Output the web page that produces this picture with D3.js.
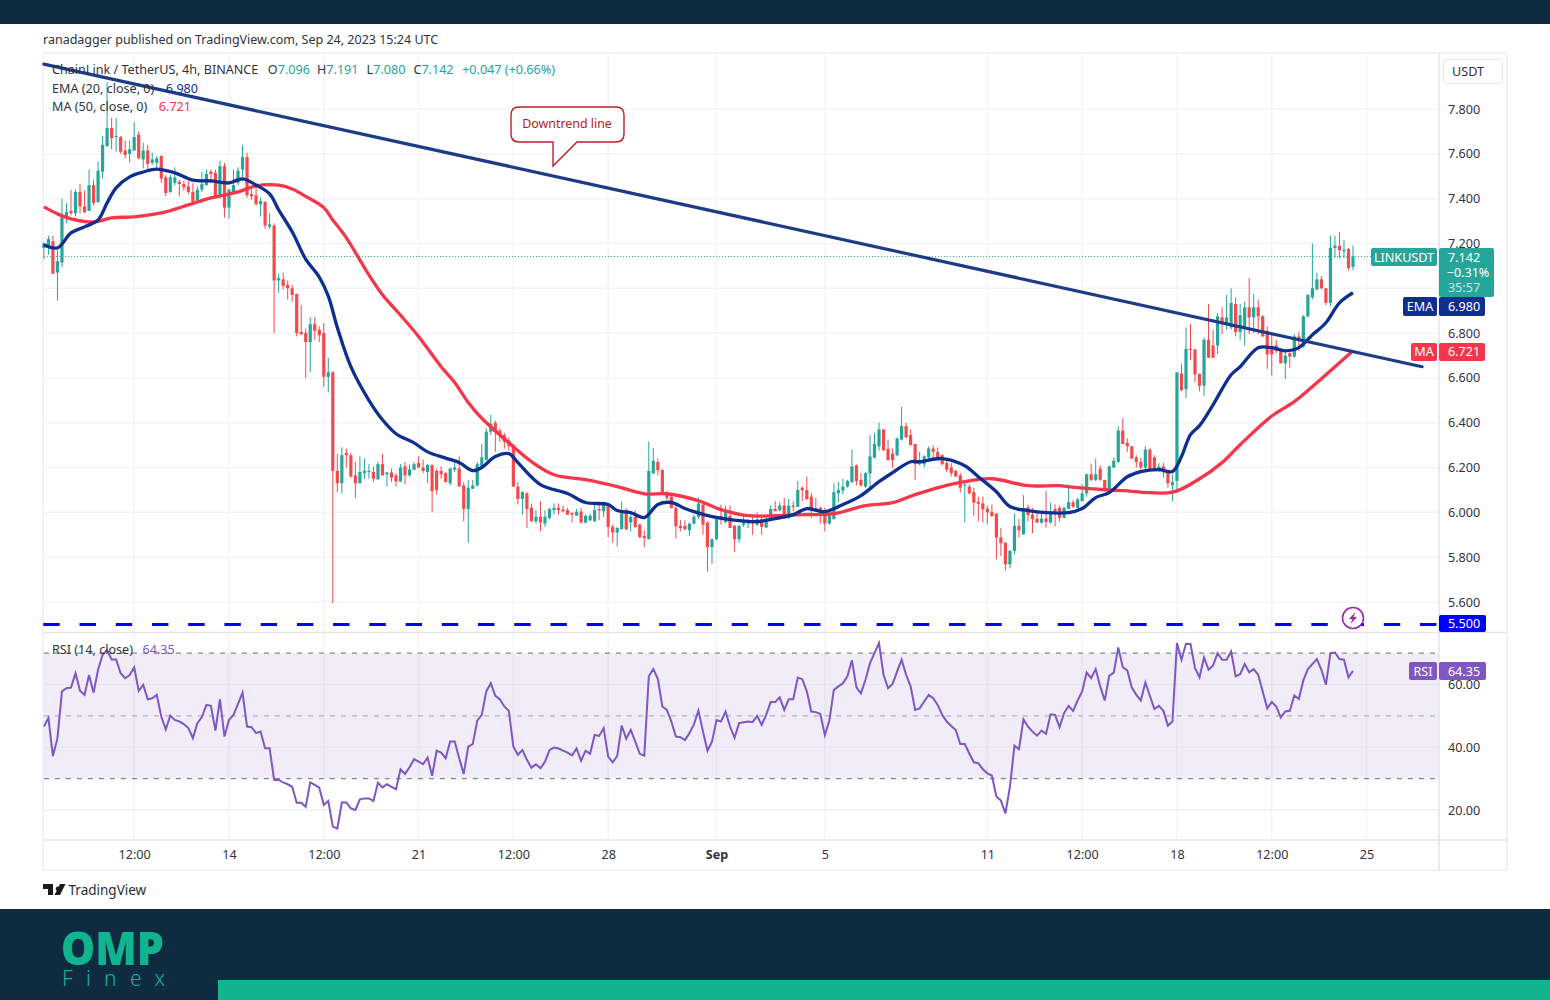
<!DOCTYPE html>
<html>
<head>
<meta charset="utf-8">
<title>LINKUSDT</title>
<script src="https://d3js.org/d3.v7.min.js"></script>
<style>
  body { margin: 0; background: #fff; }
  svg { display: block; }
  text { font-family: "Noto Sans", sans-serif; }
</style>
</head>
<body>
<svg id="chart" width="1550" height="1000"></svg>
<script>

const opens = [
  7.18,7.185,7.21,7.07,7.115,7.32,7.345,7.335,7.43,7.365,
  7.345,7.46,7.385,7.52,7.635,7.715,7.675,7.675,7.615,7.60,
  7.615,7.685,7.575,7.615,7.56,7.56,7.59,7.495,7.43,7.47,
  7.475,7.465,7.455,7.43,7.39,7.44,7.46,7.52,7.515,7.41,
  7.545,7.36,7.43,7.47,7.53,7.585,7.42,7.415,7.375,7.385,
  7.275,7.28,7.035,7.04,7.015,7.0,6.975,6.805,6.8,6.76,
  6.84,6.815,6.8,6.605,6.625,6.185,6.13,6.265,6.255,6.165,
  6.13,6.175,6.18,6.18,6.147,6.215,6.17,6.178,6.165,6.138,
  6.205,6.165,6.19,6.22,6.2,6.18,6.21,6.185,6.185,6.175,
  6.13,6.19,6.195,6.12,6.015,6.105,6.12,6.2,6.235,6.36,
  6.4,6.365,6.345,6.32,6.3,6.115,6.06,6.085,6.02,5.96,
  5.98,5.95,5.975,6.01,6.02,6.013,6.01,5.998,5.985,6.003,
  5.955,5.965,5.96,6.015,6.005,6.03,5.935,5.91,5.925,6.01,
  5.955,5.98,5.945,5.895,5.88,6.175,6.225,6.19,6.08,6.07,
  6.02,5.94,5.94,5.92,5.95,5.98,6.035,5.955,5.845,5.88,
  5.985,5.955,5.985,5.94,5.88,5.945,5.95,5.96,5.945,5.97,
  5.932,5.965,6.015,6.01,6.03,5.975,6.03,6.025,6.11,6.1,
  6.07,6.018,6.02,6.01,5.95,5.97,6.085,6.098,6.115,6.135,
  6.21,6.145,6.115,6.173,6.245,6.295,6.37,6.283,6.262,6.255,
  6.325,6.385,6.345,6.305,6.215,6.215,6.245,6.285,6.27,6.255,
  6.22,6.2,6.185,6.165,6.12,6.115,6.09,6.047,6.04,6.016,
  6.002,5.995,5.888,5.865,5.768,5.828,5.94,5.902,6.023,5.99,
  5.972,5.954,5.972,5.955,6.015,6.02,5.976,6.016,6.045,6.02,
  6.05,6.085,6.17,6.145,6.195,6.145,6.105,6.2,6.225,6.365,
  6.31,6.295,6.245,6.225,6.2,6.28,6.245,6.19,6.205,6.185,
  6.12,6.14,6.62,6.55,6.73,6.727,6.618,6.565,6.77,6.745,
  6.745,6.87,6.84,6.825,6.93,6.805,6.83,6.915,6.87,6.915,
  6.875,6.81,6.74,6.745,6.72,6.665,6.71,6.695,6.785,6.74,
  6.875,6.96,6.995,7.04,7.0,6.935,7.18,7.19,7.165,7.175,
  7.096
];
const closes = [
  7.20,7.22,7.065,7.12,7.32,7.34,7.335,7.43,7.365,7.34,
  7.46,7.38,7.525,7.64,7.715,7.67,7.68,7.61,7.595,7.62,
  7.675,7.58,7.615,7.555,7.575,7.58,7.49,7.425,7.495,7.495,
  7.465,7.45,7.43,7.385,7.44,7.465,7.51,7.51,7.41,7.545,
  7.36,7.44,7.46,7.525,7.585,7.415,7.41,7.375,7.39,7.28,
  7.285,7.035,7.045,7.01,7.0,6.97,6.80,6.795,6.76,6.84,
  6.81,6.79,6.605,6.625,6.185,6.13,6.255,6.255,6.16,6.13,
  6.18,6.185,6.185,6.15,6.215,6.165,6.178,6.155,6.138,6.2,
  6.165,6.192,6.215,6.2,6.185,6.212,6.095,6.1,6.17,6.135,
  6.195,6.2,6.115,6.015,6.11,6.12,6.215,6.245,6.36,6.395,
  6.36,6.345,6.315,6.295,6.115,6.06,6.09,6.015,5.96,5.98,
  5.955,5.98,6.015,6.02,6.01,6.005,5.99,5.99,6.003,5.955,
  5.985,5.985,6.01,6.008,6.033,5.935,5.91,5.93,6.01,5.925,
  5.98,5.935,5.89,5.885,6.185,6.23,6.188,6.08,6.065,6.02,
  5.938,5.93,5.925,5.95,5.98,6.04,5.945,5.845,5.88,5.97,
  5.965,6.01,5.93,5.88,5.94,5.955,5.958,5.95,5.97,5.935,
  5.972,6.015,6.005,6.03,5.975,6.03,6.025,6.1,6.098,6.06,
  6.01,6.008,5.99,5.95,5.99,6.09,6.1,6.115,6.14,6.205,
  6.14,6.12,6.175,6.25,6.305,6.37,6.277,6.233,6.233,6.33,
  6.385,6.335,6.3,6.215,6.23,6.25,6.285,6.27,6.245,6.215,
  6.19,6.175,6.16,6.11,6.125,6.085,6.043,6.038,6.013,6.0,
  5.984,5.888,5.862,5.768,5.828,5.94,5.92,6.02,5.988,5.97,
  5.954,5.972,5.957,6.0,6.005,5.976,6.02,6.046,6.025,6.058,
  6.085,6.17,6.145,6.17,6.145,6.105,6.205,6.23,6.365,6.305,
  6.295,6.24,6.225,6.2,6.28,6.19,6.19,6.205,6.18,6.13,
  6.135,6.625,6.545,6.73,6.725,6.615,6.565,6.77,6.69,6.69,
  6.875,6.84,6.87,6.935,6.805,6.88,6.915,6.87,6.915,6.875,
  6.785,6.705,6.705,6.72,6.665,6.7,6.695,6.785,6.765,6.875,
  6.97,7.0,7.04,7.0,6.935,7.18,7.19,7.17,7.172,7.09,
  7.142
];
const highs = [
  7.205,7.234,7.234,7.17,7.40,7.38,7.44,7.44,7.465,7.435,
  7.53,7.485,7.565,7.68,7.92,7.76,7.76,7.68,7.66,7.66,
  7.74,7.70,7.65,7.64,7.605,7.59,7.595,7.505,7.505,7.54,
  7.485,7.48,7.48,7.47,7.455,7.52,7.53,7.53,7.53,7.57,
  7.56,7.445,7.53,7.54,7.64,7.605,7.45,7.455,7.405,7.39,
  7.335,7.29,7.065,7.07,7.035,7.015,6.975,6.925,6.82,6.87,
  6.87,6.83,6.845,6.69,6.63,6.26,6.29,6.285,6.265,6.225,
  6.25,6.24,6.215,6.205,6.225,6.26,6.18,6.195,6.175,6.215,
  6.225,6.215,6.225,6.25,6.235,6.215,6.215,6.195,6.205,6.18,
  6.2,6.235,6.25,6.135,6.145,6.145,6.225,6.305,6.375,6.435,
  6.41,6.375,6.355,6.335,6.305,6.135,6.095,6.09,6.04,6.01,
  6.05,6.01,6.02,6.04,6.04,6.03,6.02,6.0,6.015,6.02,
  5.99,5.995,6.04,6.04,6.04,6.035,5.945,5.935,6.048,6.02,
  6.0,6.01,5.95,5.92,6.315,6.287,6.24,6.19,6.095,6.08,
  6.035,5.965,5.965,5.955,5.99,6.065,6.04,5.96,5.885,5.972,
  6.035,6.03,6.03,5.945,5.945,5.99,5.97,5.985,6.0,5.985,
  5.978,6.03,6.05,6.045,6.065,6.06,6.05,6.14,6.115,6.16,
  6.085,6.065,6.025,6.02,6.0,6.13,6.135,6.15,6.145,6.28,
  6.213,6.175,6.18,6.345,6.355,6.4,6.372,6.325,6.285,6.335,
  6.47,6.4,6.37,6.305,6.27,6.255,6.295,6.3,6.29,6.26,
  6.235,6.22,6.19,6.175,6.13,6.125,6.11,6.07,6.07,6.03,
  6.035,5.995,5.93,5.865,5.832,5.995,5.97,6.077,6.035,6.02,
  6.005,6.005,6.095,6.043,6.035,6.03,6.025,6.125,6.055,6.065,
  6.125,6.17,6.215,6.24,6.21,6.145,6.21,6.245,6.385,6.42,
  6.33,6.295,6.255,6.245,6.295,6.285,6.255,6.22,6.22,6.19,
  6.17,6.625,6.665,6.825,6.84,6.73,6.62,6.78,6.93,6.815,
  6.89,6.915,6.97,7.0,6.96,6.93,6.94,7.045,6.975,6.95,
  6.88,6.83,6.795,6.77,6.73,6.725,6.72,6.795,6.805,6.88,
  6.975,7.2,7.07,7.055,7.0,7.235,7.235,7.25,7.215,7.18,
  7.191
];
const lows = [
  7.13,7.15,7.064,6.945,7.095,7.29,7.325,7.32,7.335,7.335,
  7.345,7.37,7.38,7.49,7.63,7.62,7.61,7.60,7.58,7.56,
  7.615,7.575,7.535,7.53,7.55,7.53,7.47,7.41,7.425,7.46,
  7.41,7.435,7.42,7.385,7.385,7.43,7.46,7.47,7.405,7.40,
  7.315,7.31,7.425,7.46,7.48,7.405,7.395,7.37,7.32,7.265,
  7.265,6.80,6.98,6.995,6.95,6.94,6.785,6.79,6.60,6.625,
  6.77,6.76,6.56,6.535,5.595,6.09,6.085,6.20,6.155,6.065,
  6.13,6.15,6.15,6.135,6.145,6.165,6.115,6.135,6.115,6.135,
  6.125,6.16,6.19,6.20,6.175,6.13,6.0,6.08,6.15,6.135,
  6.12,6.18,6.115,5.96,5.865,6.105,6.115,6.20,6.23,6.345,
  6.27,6.315,6.285,6.275,6.115,6.035,5.99,5.93,5.96,5.95,
  5.915,5.935,5.97,5.99,5.99,6.0,5.988,5.955,5.985,5.95,
  5.95,5.96,5.958,5.965,5.98,5.89,5.865,5.848,5.925,5.92,
  5.915,5.93,5.885,5.845,5.88,6.17,6.165,6.08,6.055,6.018,
  5.883,5.915,5.92,5.895,5.945,5.97,5.90,5.735,5.77,5.875,
  5.945,5.955,5.93,5.825,5.865,5.935,5.93,5.90,5.94,5.90,
  5.932,5.96,6.005,6.005,5.97,5.97,6.005,6.025,6.05,6.055,
  5.975,6.005,5.95,5.915,5.945,5.968,6.045,6.08,6.11,6.13,
  6.12,6.115,6.11,6.10,6.24,6.275,6.275,6.232,6.20,6.25,
  6.32,6.33,6.30,6.145,6.21,6.20,6.24,6.235,6.235,6.21,
  6.18,6.16,6.158,6.088,5.955,6.08,5.985,5.96,5.955,5.946,
  5.98,5.79,5.805,5.74,5.75,5.813,5.888,5.90,5.96,5.907,
  5.953,5.95,5.932,5.95,5.937,5.96,5.973,6.012,6.02,6.02,
  6.05,6.07,6.14,6.14,6.14,6.10,6.105,6.20,6.22,6.305,
  6.27,6.24,6.20,6.19,6.19,6.185,6.185,6.18,6.155,6.11,
  6.05,6.10,6.54,6.51,6.68,6.58,6.54,6.52,6.69,6.69,
  6.705,6.795,6.815,6.815,6.785,6.77,6.745,6.795,6.80,6.795,
  6.785,6.64,6.61,6.71,6.665,6.595,6.645,6.69,6.72,6.735,
  6.87,6.95,6.99,6.995,6.925,6.92,7.135,7.135,7.135,7.08,
  7.08
];

const emaBars = [0,3,6,9,12,14,16,19,22,25,29,33,37,41,44,47,50,52,55,58,61,63,65,68,72,75,78,82,85,89,92,95,97,100,103,105,110,116,120,125,127,130,133,136,139,142,144,148,152,158,162,166,169,173,177,181,185,188,192,194,199,204,207,211,214,218,222,227,230,233,236,240,243,247,250,252,254,256,259,263,265,269,272,275,278,281,284,287,290];
const emaValues = [7.194,7.18,7.247,7.274,7.305,7.381,7.448,7.497,7.519,7.532,7.515,7.483,7.479,7.47,7.488,7.461,7.421,7.35,7.252,7.13,7.05,6.965,6.825,6.65,6.5,6.413,6.351,6.31,6.27,6.242,6.222,6.186,6.2,6.249,6.262,6.222,6.124,6.084,6.044,6.035,6.008,5.999,5.977,6.035,6.044,6.017,6.003,5.981,5.968,5.959,5.972,5.99,6.017,6.003,6.035,6.075,6.137,6.177,6.226,6.226,6.24,6.208,6.159,6.092,6.026,6.008,5.999,5.999,6.017,6.066,6.088,6.159,6.182,6.191,6.182,6.249,6.347,6.387,6.48,6.614,6.65,6.735,6.735,6.721,6.735,6.792,6.846,6.935,6.98];

const maBars = [0,3,6,11,15,20,26,32,37,43,47,52,55,58,62,64,67,72,75,79,83,88,91,94,97,104,108,113,120,127,133,138,145,150,156,162,168,175,182,188,193,199,204,210,218,225,229,235,239,250,256,261,265,272,277,284,290];
const maValues = [7.363,7.332,7.31,7.296,7.314,7.319,7.336,7.372,7.403,7.43,7.457,7.46,7.443,7.41,7.36,7.305,7.225,7.06,6.971,6.88,6.785,6.65,6.58,6.49,6.42,6.293,6.226,6.168,6.146,6.115,6.083,6.083,6.052,6.012,5.985,5.985,5.99,5.994,6.03,6.043,6.079,6.115,6.137,6.15,6.119,6.119,6.11,6.101,6.097,6.09,6.15,6.222,6.302,6.43,6.494,6.614,6.721];

const rsiValues = [
  46.6,49.3,37.2,42.9,57.8,58.8,59,63.6,58,56.7,
  63,57.4,64.7,69.5,71,68,68,63.6,62,63,
  65.5,58,59.9,55.3,55.6,56.7,49.8,45.7,50.1,48.7,
  48.2,47.4,46.1,42.9,47.7,49.6,53.5,53.2,45.3,55.3,
  43.4,48.7,50.3,53.8,57.4,46.6,46.4,44.5,45,39.7,
  39.7,29.6,29.6,28.8,28.2,27.4,22.3,22.3,21,28.8,
  28,27.1,21.6,22.9,14.7,14.1,22.4,22.4,20.5,20,
  23.4,23.7,23.7,22.9,28.7,27.2,28.2,27.4,26.6,33,
  31.5,33.6,36.2,35.4,34.6,36.7,30.9,38.9,38.3,36.5,
  41.8,41.8,36.5,31.5,40.2,41,48.5,50.3,57.8,60.4,
  56.4,55.3,53,51.6,40.2,37.6,39.1,36,33.5,34.6,
  33.3,35.4,39.1,39.9,39.6,38.9,38.3,37.4,39.6,35.7,
  38.9,37.9,43.9,43.6,46.1,37,35.2,37.2,46.9,42.7,
  45.5,41.8,37.9,37.3,62.6,64.9,61.8,53,51.9,48.2,
  43.4,43.2,42.3,44.5,47.3,51.7,45,38.9,41.8,48.7,
  48.2,51.4,46.6,43,47.7,48,48.2,48,50,47.1,
  50.3,54.4,54.4,55.9,51.9,55.3,55.3,62.2,61.7,57.8,
  51.4,51.2,50.6,43.9,48.5,58.3,59.4,60.4,62.6,67.7,
  59.1,57.2,61.5,66.8,70,73.2,63.1,58.8,60.2,64.1,
  67.9,63.1,59.4,51.9,52.4,54.6,56.7,55.6,53.5,50.3,
  48.2,46.8,45.5,41,41,38,35.2,34.9,33,31.7,
  31,24.3,23,18.9,27.4,40.5,39.4,48.9,46.6,45,
  43.7,45.3,44.3,50.5,50.3,46.4,50.9,53.2,51.6,54.9,
  57.8,63.8,62,64.9,59.4,54.9,62.8,63.8,71.8,65.5,
  64.5,59,56.7,54.9,60.6,56.4,52.2,53.2,51.6,46.9,
  48.2,73.2,67.9,73,72.9,65.2,62.3,68.6,64.7,66.1,
  70,67.9,67.9,70.5,62.6,63.3,66.5,63.9,64.9,63.1,
  57.8,52.4,54.4,53,49.5,51.4,51.6,56.5,55.4,61.3,
  64.9,66.5,68.1,64.7,59.9,70,70.2,68.1,67.9,62.3,
  64.35
];

// downtrend line ends, bar number and price
const trendBars = [0, 305.3];
const trendPrices = [8.0, 6.65];

const priceTicks = [7.8, 7.6, 7.4, 7.2, 7.0, 6.8, 6.6, 6.4, 6.2, 6.0, 5.8, 5.6];
const rsiTicks = [60, 40, 20];
const rsiBands = [70, 50, 30];
const timeBars = [20, 41, 62, 83, 104, 125, 149, 173, 209, 230, 251, 272, 293];
const timeLabels = ['12:00', '14', '12:00', '21', '12:00', '28', 'Sep', '5', '11', '12:00', '18', '12:00', '25'];

// }}} data //

const C_DARK = '#0f2b40', C_GREEN = '#10b48f', C_UP = '#26a69a', C_DOWN = '#f44a4c',
  C_EMA = '#0d2f8f', C_MA = '#f6364a', C_TREND = '#1c3d86', C_RSI = '#7e57c2', C_TEXT = '#2f3340',
  C_GRID = '#f3f4f6', C_SEP = '#e3e5ec';

const svg = d3.select('#chart');

// scales {{{ //

const left = 43.9, right = 1439;
const x = d3.scaleLinear().domain([0, 290]).range([left, 1353]);
const y = d3.scaleLinear().domain([5.6, 7.8]).range([602, 109]);
const yRsi = d3.scaleLinear().domain([20, 60]).range([810, 684.5]);

// }}} scales //

// page frame {{{ //

svg.append('rect').attr('width', 1550).attr('height', 24).attr('fill', C_DARK);
svg.append('rect').attr('y', 909).attr('width', 1550).attr('height', 91).attr('fill', C_DARK);
svg.append('rect').attr('x', 218).attr('y', 980).attr('width', 1332).attr('height', 20).attr('fill', C_GREEN);

svg.append('text').attr('x', 43).attr('y', 44).attr('font-size', 12.5).attr('fill', C_TEXT)
  .text('ranadagger published on TradingView.com, Sep 24, 2023 15:24 UTC');

svg.append('rect').attr('x', 43).attr('y', 53).attr('width', 1464).attr('height', 817)
  .attr('fill', '#fff').attr('stroke', '#eceef2').attr('stroke-width', 1.5);

// }}} page frame //

// grid {{{ //

const grid = svg.append('g');
grid.selectAll('.hgrid').data(priceTicks).enter().append('line')
  .attr('x1', left).attr('x2', right)
  .attr('y1', d => y(d)).attr('y2', d => y(d))
  .attr('stroke', C_GRID).attr('stroke-width', 1.5);
[[53, 632], [633, 840]].forEach(function(span) {
  grid.append('g').selectAll('line').data(timeBars).enter().append('line')
    .attr('x1', d => x(d)).attr('x2', d => x(d))
    .attr('y1', span[0]).attr('y2', span[1])
    .attr('stroke', C_GRID).attr('stroke-width', 1.5);
});

// }}} grid //

// rsi pane {{{ //

svg.append('rect').attr('x', left).attr('width', right - left)
  .attr('y', yRsi(70)).attr('height', yRsi(30) - yRsi(70))
  .attr('fill', C_RSI).attr('fill-opacity', 0.11);
svg.append('g').selectAll('line').data(rsiTicks).enter().append('line')
  .attr('x1', left).attr('x2', right)
  .attr('y1', d => yRsi(d)).attr('y2', d => yRsi(d))
  .attr('stroke', '#e6e4ec').attr('stroke-width', 1);
svg.append('g').selectAll('line').data(rsiBands).enter().append('line')
  .attr('x1', left).attr('x2', right)
  .attr('y1', d => yRsi(d)).attr('y2', d => yRsi(d))
  .attr('stroke', d => d === 50 ? '#b0b0b8' : '#85858f').attr('stroke-width', 1.2)
  .attr('stroke-dasharray', '5 6');
svg.append('path').datum(rsiValues)
  .attr('fill', 'none').attr('stroke', C_RSI).attr('stroke-width', 2)
  .attr('d', d3.line().x((d, i) => x(i)).y(d => yRsi(d)));

// }}} rsi pane //

// last price and 5.500 lines {{{ //

svg.append('line').attr('x1', left).attr('x2', right)
  .attr('y1', y(closes[290])).attr('y2', y(closes[290]))
  .attr('stroke', C_UP).attr('stroke-width', 1.1).attr('stroke-dasharray', '1 2');
svg.append('line').attr('x1', left - 0.6).attr('x2', right)
  .attr('y1', y(5.5)).attr('y2', y(5.5))
  .attr('stroke', '#0000ff').attr('stroke-width', 3).attr('stroke-dasharray', '16.4 19.83');

// }}} last price and 5.500 lines //

// candles {{{ //

const bars = d3.range(opens.length);
const candle = svg.append('g').selectAll('g').data(bars).enter().append('g')
  .attr('fill', i => closes[i] >= opens[i] ? C_UP : C_DOWN);
candle.append('rect')
  .attr('x', i => x(i) - 0.5).attr('width', 1)
  .attr('y', i => y(highs[i])).attr('height', i => y(lows[i]) - y(highs[i]));
candle.append('rect')
  .attr('x', i => x(i) - 1.6).attr('width', 3.2)
  .attr('y', i => y(Math.max(opens[i], closes[i])))
  .attr('height', i => Math.max(1, Math.abs(y(opens[i]) - y(closes[i]))));

// }}} candles //

// moving averages and trend line {{{ //

const barLine = d3.line().curve(d3.curveCatmullRom.alpha(0.5)).x(d => x(d[0])).y(d => y(d[1]));
svg.append('path').datum(d3.zip(maBars, maValues))
  .attr('fill', 'none').attr('stroke', C_MA).attr('stroke-width', 3.3).attr('d', barLine);
svg.append('path').datum(d3.zip(emaBars, emaValues))
  .attr('fill', 'none').attr('stroke', C_EMA).attr('stroke-width', 3.3).attr('d', barLine);
svg.append('path').datum(d3.zip(trendBars, trendPrices))
  .attr('fill', 'none').attr('stroke', C_TREND).attr('stroke-width', 3.2).attr('stroke-linecap', 'round')
  .attr('d', d3.line().x(d => x(d[0])).y(d => y(d[1])));

// }}} moving averages and trend line //

// panes and axes {{{ //

svg.append('line').attr('x1', 43).attr('x2', 1507).attr('y1', 632.5).attr('y2', 632.5).attr('stroke', C_SEP).attr('stroke-width', 1.5);
svg.append('line').attr('x1', 43).attr('x2', 1507).attr('y1', 840).attr('y2', 840).attr('stroke', C_SEP).attr('stroke-width', 1.5);
svg.append('line').attr('x1', 1439).attr('x2', 1439).attr('y1', 53).attr('y2', 870).attr('stroke', C_SEP).attr('stroke-width', 1.5);

function styleAxis(g) {
  g.select('.domain').remove();
  g.selectAll('.tick line').remove();
  g.selectAll('text').attr('font-family', '"Noto Sans", sans-serif').attr('font-size', 12.6).attr('fill', C_TEXT);
}

svg.append('g').attr('transform', 'translate(1448,0)')
  .call(d3.axisRight(y).tickValues(priceTicks).tickFormat(d3.format('.3f')).tickSize(0).tickPadding(0))
  .call(styleAxis);
svg.append('g').attr('transform', 'translate(1448,0)')
  .call(d3.axisRight(yRsi).tickValues(rsiTicks).tickFormat(d3.format('.2f')).tickSize(0).tickPadding(0))
  .call(styleAxis);
svg.append('g').attr('transform', 'translate(0,847)')
  .call(d3.axisBottom(x).tickValues(timeBars).tickFormat((d, i) => timeLabels[i]).tickSize(0).tickPadding(3))
  .call(styleAxis)
  .selectAll('text').attr('font-weight', (d, i) => timeLabels[i] === 'Sep' ? 700 : 400);

// }}} panes and axes //

// lightning mark on the 5.500 line {{{ //

svg.append('circle').attr('cx', 1353).attr('cy', 618).attr('r', 10.5)
  .attr('fill', '#fff').attr('stroke', '#9c27b0').attr('stroke-width', 1.6);
svg.append('path').attr('transform', 'translate(1353,618)')
  .attr('d', 'M2.5,-6 L-4,1 L-0.5,1 L-2.5,6 L4,-1 L0.5,-1 Z').attr('fill', '#9c27b0');

// }}} lightning mark //

// legend {{{ //

function rowText(yPos, parts) {
  const t = svg.append('text').attr('x', 52).attr('y', yPos).attr('font-size', 12.6).attr('xml:space', 'preserve');
  parts.forEach(p => t.append('tspan').attr('fill', p[1]).attr('dx', p[2] || 0).text(p[0]));
}
rowText(74, [
  ['ChainLink / TetherUS, 4h, BINANCE  ', C_TEXT],
  ['O', C_TEXT, 3], ['7.096  ', C_UP], ['H', C_TEXT, 0.5], ['7.191  ', C_UP],
  ['L', C_TEXT, 1.5], ['7.080  ', C_UP], ['C', C_TEXT, 1.5], ['7.142  ', C_UP],
  ['+0.047 (+0.66%)', C_UP, 2]
]);
rowText(93, [['EMA (20, close, 0)  ', C_TEXT], ['6.980', C_EMA, 5]]);
rowText(111, [['MA (50, close, 0)  ', C_TEXT], ['6.721', C_MA, 5]]);
rowText(654, [['RSI (14, close)  ', C_TEXT], ['64.35', C_RSI, 3]]);

// }}} legend //

// downtrend callout {{{ //

svg.append('path')
  .attr('d', 'M519,107 H616 Q624,107 624,115 V134 Q624,142 616,142 H577 L553,166 L553,142 H519 Q511,142 511,134 V115 Q511,107 519,107 Z')
  .attr('fill', '#fff').attr('stroke', '#b5222c').attr('stroke-width', 1.4);
svg.append('text').attr('x', 567).attr('y', 128).attr('text-anchor', 'middle')
  .attr('font-size', 12.4).attr('fill', '#b71c1c').text('Downtrend line');

// }}} downtrend callout //

// right side tags {{{ //

function tag(x0, x1, y0, y1, color) {
  svg.append('rect').attr('x', x0).attr('y', y0).attr('width', x1 - x0).attr('height', y1 - y0)
    .attr('rx', 2).attr('fill', color);
}
function tagText(cx, yPos, str, color) {
  svg.append('text').attr('x', cx).attr('y', yPos).attr('text-anchor', 'middle')
    .attr('font-size', 12.6).attr('fill', color || '#fff').text(str);
}

tag(1371, 1437, 248, 266, C_UP);
tagText(1404, 262, 'LINKUSDT');
tag(1439, 1494, 248, 297, C_UP);
tagText(1464, 262, '7.142');
tagText(1468, 277, '\u22120.31%');
tagText(1464, 292, '35:57', '#c4e8e3');

tag(1403, 1437, 297, 316, C_EMA);
tagText(1420, 311, 'EMA');
tag(1439, 1485, 297, 316, C_EMA);
tagText(1464, 311, '6.980');

tag(1411, 1437, 343, 361, C_MA);
tagText(1424, 356, 'MA');
tag(1439, 1485, 343, 361, C_MA);
tagText(1464, 356, '6.721');

tag(1439, 1486, 615, 632, '#0000ff');
tagText(1464, 628, '5.500');

tag(1409, 1437, 662, 680, C_RSI);
tagText(1423, 676, 'RSI');
tag(1439, 1486, 662, 680, C_RSI);
tagText(1464, 676, '64.35');

svg.append('rect').attr('x', 1443.5).attr('y', 59.5).attr('width', 59).attr('height', 24).attr('rx', 3)
  .attr('fill', '#fff').attr('stroke', '#e3e5ec');
tagText(1468, 76, 'USDT', C_TEXT);

// }}} right side tags //

// logos {{{ //

svg.append('path').attr('fill', '#1a1a1f')
  .attr('d', 'M43,884 H53 V895 H48 V889 H43 Z M58,886.5 a2.3,2.3 0 1 1 -0.01,0 Z M60,884 H65.5 L60,895 H54.5 Z');
svg.append('text').attr('x', 68.5).attr('y', 894.5).attr('font-size', 13.5).attr('fill', '#2a2e39').text('TradingView');

svg.append('text').attr('x', 61).attr('y', 965).attr('font-family', 'Lato')
  .attr('font-size', 46).attr('font-weight', 900).attr('fill', C_GREEN)
  .attr('textLength', 103).attr('lengthAdjust', 'spacingAndGlyphs').text('OMP');
svg.append('text').attr('x', 62).attr('y', 986).attr('font-family', 'Lato')
  .attr('font-size', 21).attr('font-weight', 300).attr('fill', C_GREEN)
  .attr('textLength', 103).text('Finex');

// }}} logos //
</script>
</body>
</html>
